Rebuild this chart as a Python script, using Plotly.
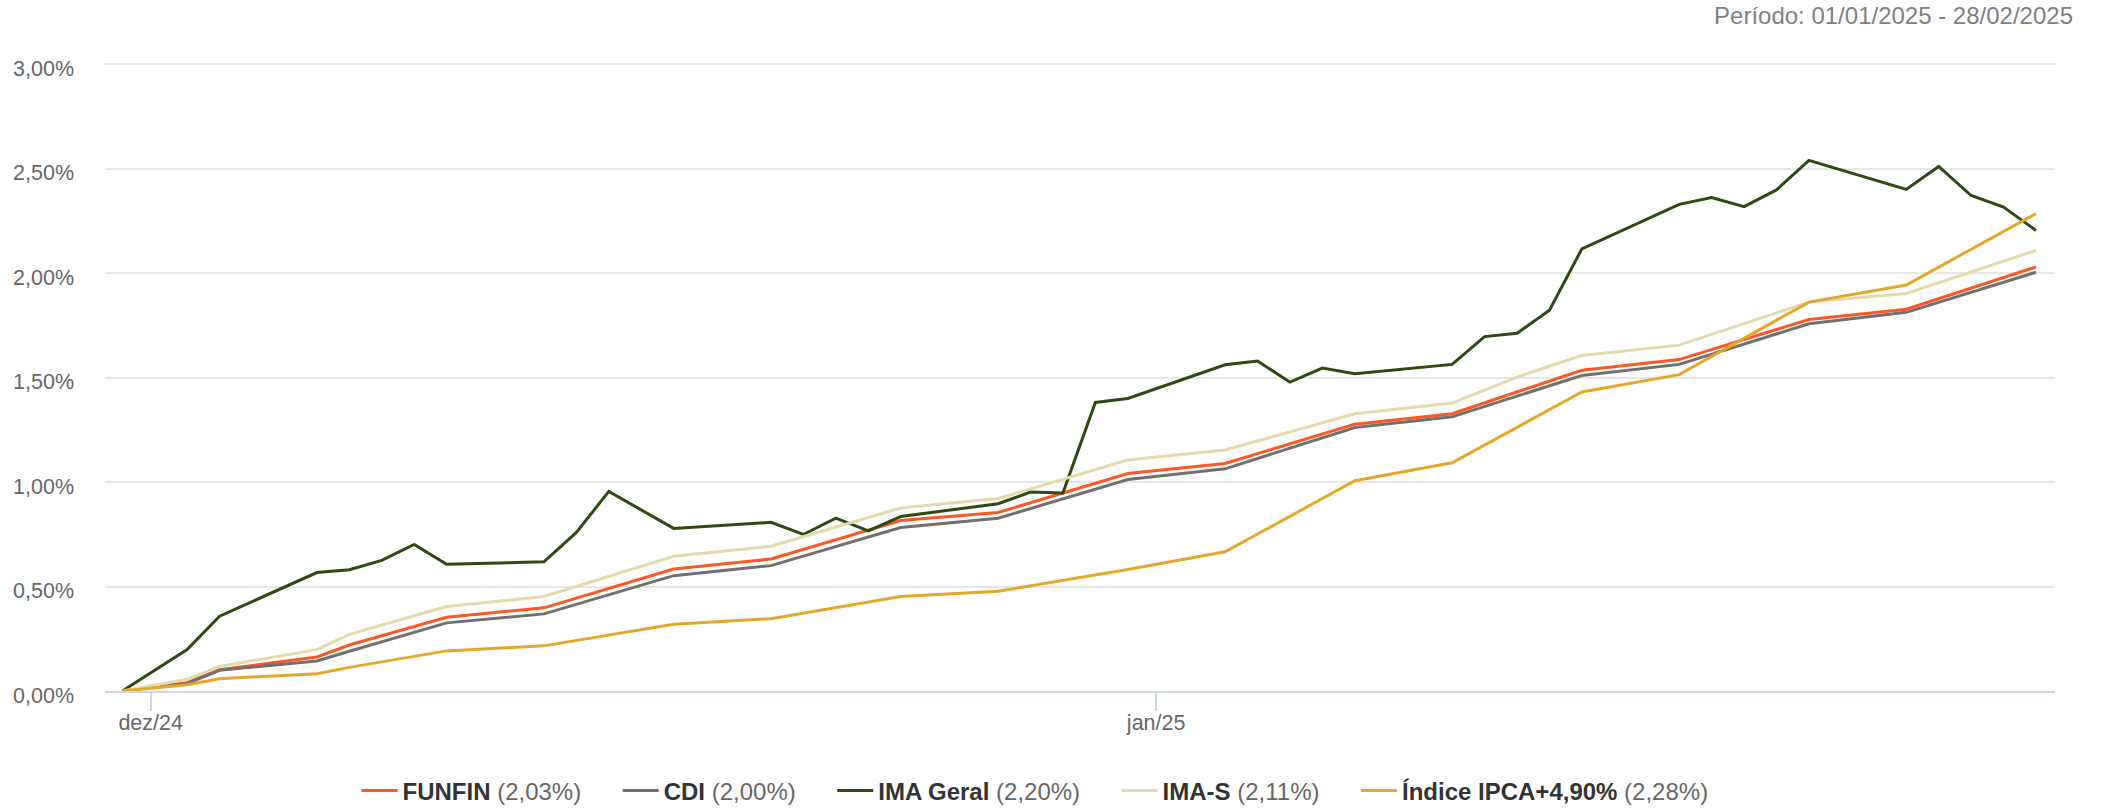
import plotly.graph_objects as go

dates = [
    "2024-12-31", "2025-01-02", "2025-01-03", "2025-01-06", "2025-01-07", "2025-01-08",
    "2025-01-09", "2025-01-10", "2025-01-13", "2025-01-14", "2025-01-15", "2025-01-16",
    "2025-01-17", "2025-01-20", "2025-01-21", "2025-01-22", "2025-01-23", "2025-01-24",
    "2025-01-27", "2025-01-28", "2025-01-29", "2025-01-30", "2025-01-31", "2025-02-03",
    "2025-02-04", "2025-02-05", "2025-02-06", "2025-02-07", "2025-02-10", "2025-02-11",
    "2025-02-12", "2025-02-13", "2025-02-14", "2025-02-17", "2025-02-18", "2025-02-19",
    "2025-02-20", "2025-02-21", "2025-02-24", "2025-02-25", "2025-02-26", "2025-02-27",
    "2025-02-28",
]

funfin = [
    0.000, 0.040, 0.102, 0.163, 0.220, 0.265, 0.310, 0.353, 0.398, 0.445, 0.492, 0.538,
    0.584, 0.632, 0.678, 0.724, 0.770, 0.816, 0.854, 0.900, 0.947, 0.994, 1.041, 1.089,
    1.136, 1.183, 1.230, 1.277, 1.327, 1.379, 1.431, 1.483, 1.535, 1.586, 1.634, 1.682,
    1.730, 1.778, 1.827, 1.877, 1.928, 1.978, 2.029,
]

cdi = [
    0.000, 0.036, 0.099, 0.144, 0.190, 0.235, 0.281, 0.326, 0.369, 0.415, 0.461, 0.506,
    0.552, 0.600, 0.645, 0.691, 0.736, 0.782, 0.827, 0.873, 0.920, 0.966, 1.012, 1.063,
    1.113, 1.162, 1.212, 1.261, 1.312, 1.361, 1.410, 1.460, 1.510, 1.563, 1.611, 1.660,
    1.708, 1.757, 1.812, 1.860, 1.908, 1.956, 2.004,
]

ima_geral = [
    0.000, 0.198, 0.358, 0.567, 0.580, 0.625, 0.701, 0.607, 0.618, 0.759, 0.955, 0.866,
    0.778, 0.807, 0.749, 0.827, 0.766, 0.835, 0.896, 0.952, 0.948, 1.381, 1.400, 1.561,
    1.579, 1.478, 1.545, 1.518, 1.563, 1.696, 1.712, 1.822, 2.116, 2.329, 2.361, 2.318,
    2.398, 2.539, 2.400, 2.510, 2.371, 2.316, 2.204,
]

ima_s = [
    0.000, 0.056, 0.118, 0.198, 0.271, 0.315, 0.360, 0.404, 0.452, 0.500, 0.548, 0.597,
    0.645, 0.693, 0.739, 0.784, 0.830, 0.876, 0.921, 0.967, 1.013, 1.059, 1.105, 1.153,
    1.197, 1.240, 1.284, 1.327, 1.378, 1.440, 1.502, 1.554, 1.606, 1.655, 1.706, 1.758,
    1.810, 1.861, 1.902, 1.954, 2.005, 2.057, 2.108,
]

ipca = [
    0.000, 0.030, 0.059, 0.083, 0.113, 0.139, 0.166, 0.192, 0.216, 0.242, 0.268, 0.293,
    0.319, 0.346, 0.373, 0.399, 0.426, 0.452, 0.477, 0.503, 0.529, 0.555, 0.581, 0.666,
    0.751, 0.836, 0.921, 1.006, 1.092, 1.177, 1.262, 1.346, 1.431, 1.514, 1.601, 1.688,
    1.774, 1.861, 1.943, 2.028, 2.114, 2.199, 2.284,
]

series_names = ["FUNFIN", "CDI", "IMA Geral", "IMA-S", "Índice IPCA+4,90%"]
series_values = [funfin, cdi, ima_geral, ima_s, ipca]
series_colors = ["#FF5722", "#707070", "#2E4A12", "#E2DAAB", "#E6A62A"]

x_tick_vals = ["2024-12-31 21:00", "2025-01-31 21:00"]
x_tick_text = ["dez/24", "jan/25"]
y_tick_vals = [0, 0.5, 1.0, 1.5, 2.0, 2.5, 3.0]
y_tick_text = ["0,00%", "0,50%", "1,00%", "1,50%", "2,00%", "2,50%", "3,00%"]

FONT = "Liberation Sans, Arial, Helvetica, sans-serif"
W, H = 2102, 810

fig = go.Figure()
n = len(series_names)
for i, (name, vals, color) in enumerate(zip(series_names, series_values, series_colors)):
    last = f"{vals[-1]:.2f}".replace(".", ",")
    pad = "" if i == n - 1 else "\u00A0" * 4 + "\u2009"
    label = f"<b>{name}</b> <span style='color:#666666'>({last}%)</span>{pad}"
    fig.add_trace(go.Scatter(
        x=dates, y=vals, mode="lines", name=label,
        line=dict(color=color, width=3),
    ))

fig.update_layout(
    width=W, height=H,
    margin=dict(l=105, r=47, t=62.2, b=119.3),
    paper_bgcolor="white", plot_bgcolor="white",
    font=dict(family=FONT, size=21.5, color="#666666"),
    title=dict(
        text="Período: 01/01/2025 - 28/02/2025",
        xref="container", yref="container",
        x=2073 / W, xanchor="right",
        y=1 - 16 / H, yanchor="middle",
        font=dict(family=FONT, size=24, color="#808080"),
    ),
    legend=dict(
        orientation="h",
        xref="container", yref="container",
        x=1035 / W, xanchor="center",
        y=1 - 791 / H, yanchor="middle",
        font=dict(family=FONT, size=24, color="#333333"),
        itemwidth=36,
        traceorder="normal",
    ),
    showlegend=True,
)

fig.update_xaxes(
    type="date",
    range=["2024-12-30 11:13", "2025-02-28 14:04"],
    tickvals=x_tick_vals, ticktext=x_tick_text,
    ticks="outside", ticklen=18, tickwidth=1.5, tickcolor="#ccd6eb",
    ticklabelstandoff=-7,
    showline=True, linecolor="#ccd6eb", linewidth=2,
    showgrid=False, zeroline=False, automargin=False,
    tickfont=dict(family=FONT, size=21.5, color="#666666"),
)

fig.update_yaxes(
    range=[0, 3.01],
    tickvals=y_tick_vals, ticktext=y_tick_text,
    showgrid=True, gridcolor="#e6e6e6", gridwidth=1.5,
    zeroline=False, showline=False, automargin=False,
    ticks="", ticklabelstandoff=30, ticklabelshift=4,
    tickfont=dict(family=FONT, size=21.5, color="#666666"),
)

# remove the browser's default 8px body margin so the figure fills the window
fig.write_html(
    "out.html",
    config={"displayModeBar": False},
    post_script="document.body.style.margin='0px';",
)
